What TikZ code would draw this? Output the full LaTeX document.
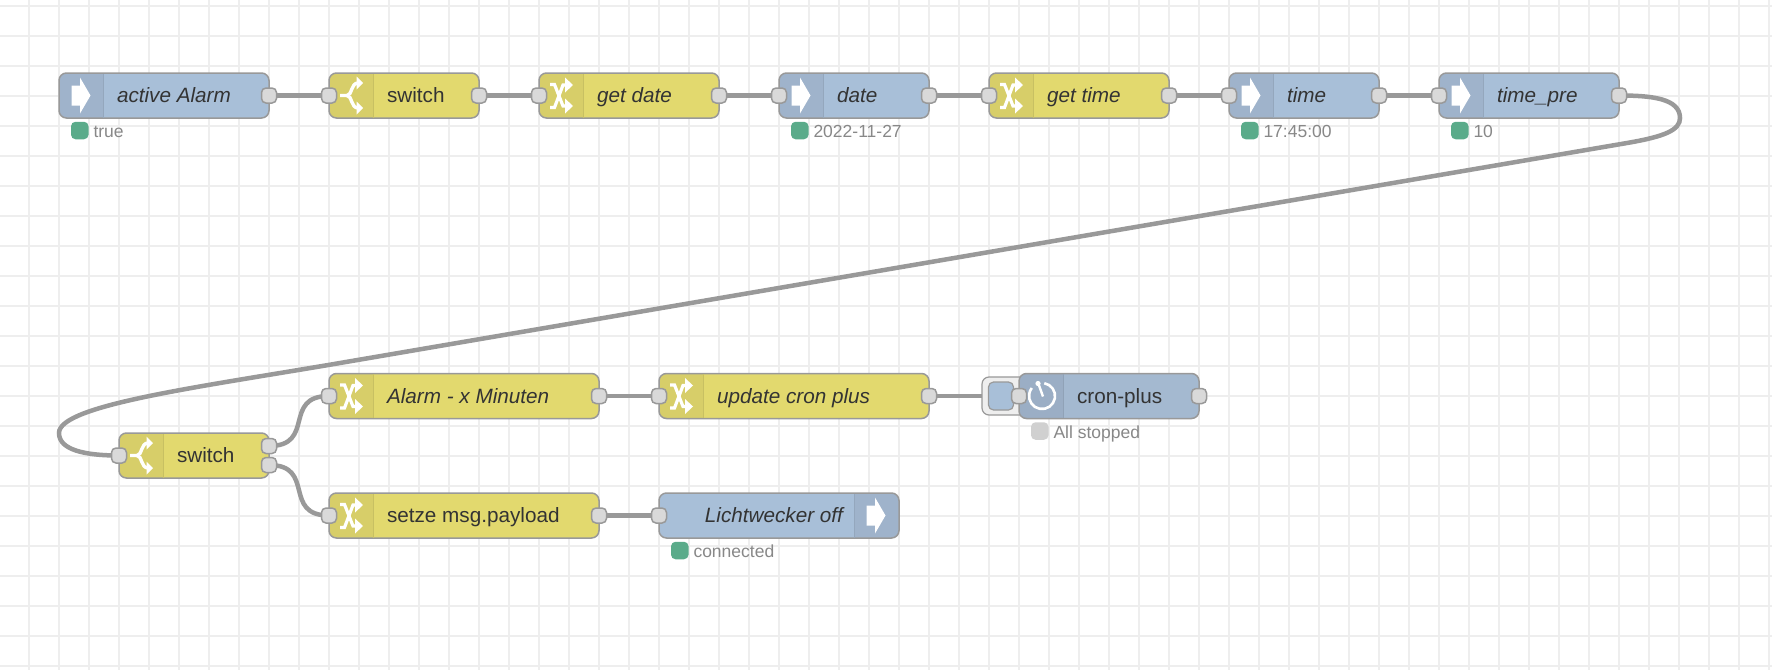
\documentclass[tikz,border=0pt]{standalone}
\usepackage{fontspec}
\setmainfont{Liberation Sans}
\usetikzlibrary{backgrounds}
\definecolor{gridc}{HTML}{EEEEEE}
\definecolor{wirec}{HTML}{999999}
\definecolor{edgec}{HTML}{999999}
\definecolor{portc}{HTML}{D9D9D9}
\definecolor{bluec}{HTML}{A8BFD8}
\definecolor{bluei}{HTML}{9FB3CB}
\definecolor{cronc}{HTML}{A4B9D0}
\definecolor{croni}{HTML}{9BAEC5}
\definecolor{yelc}{HTML}{E2D96E}
\definecolor{yeli}{HTML}{D7CE69}
\definecolor{okc}{HTML}{5AAB8A}
\definecolor{offc}{HTML}{D0D0D0}
\definecolor{txtc}{HTML}{333333}
\definecolor{stc}{HTML}{888888}
\tikzset{
  gridline/.style={gridc,line width=1.8pt},
  wire/.style={wirec,line width=4.5pt},
  nodebody/.style={rectangle,rounded corners=7.5pt,minimum height=45pt,inner sep=0pt,outer sep=0pt},
  nodeedge/.style={draw=edgec,line width=1.5pt,rounded corners=7.5pt},
  port/.style={rectangle,draw=edgec,fill=portc,line width=1.5pt,rounded corners=4.5pt,minimum size=15pt,inner sep=0pt,outer sep=0pt},
  lbl/.style={anchor=base west,inner sep=0pt,outer sep=0pt,text=txtc,font=\fontsize{20.7pt}{24pt}\selectfont},
  ilbl/.style={lbl,font=\fontsize{20.7pt}{24pt}\selectfont\itshape},
  stdot/.style={rectangle,rounded corners=4.5pt,minimum size=17.5pt,inner sep=0pt,outer sep=0pt},
  sttext/.style={anchor=base west,inner sep=0pt,outer sep=0pt,text=stc,font=\fontsize{17.5pt}{20pt}\selectfont},
}
% #1 name, #2 left, #3 centre y, #4 width, #5 fill, #6 panel fill, #7 panel left offset
\newcommand{\flowbody}[7]{%
  \node[nodebody,fill=#5,minimum width=#4pt] (#1) at ({#2+#4/2},#3) {};
  \begin{scope}
    \clip[rounded corners=7.5pt] (#2,#3-22.5) rectangle (#2+#4,#3+22.5);
    \fill[#6] (#2+#7,#3-23) rectangle (#2+#7+44.5,#3+23);
  \end{scope}
  \draw[nodeedge] (#2,#3-22.5) rectangle (#2+#4,#3+22.5);
}
\newcommand{\leftdivider}[3]{\draw[#3,line width=1pt] (#1+44.5,#2-22) -- (#1+44.5,#2+22);}
\newcommand{\iconarrow}[2]{\begin{scope}[shift={(#1,#2)}]
  \fill[white] (12.7,-10)--(21,-10)--(21,-18)--(31.5,0)--(21,18)--(21,10)--(12.7,10)--cycle;
\end{scope}}
\newcommand{\iconswitch}[2]{\begin{scope}[shift={(#1,#2)}]
  \draw[white,line width=3.4pt] (11,0)--(18,0) .. controls (23,0) and (22,-12.5) .. (29,-12.5);
  \draw[white,line width=3.4pt] (18,0) .. controls (23,0) and (22,12.5) .. (29,12.5);
  \fill[white] (27.5,-19)--(34,-12.5)--(27.5,-6)--cycle;
  \fill[white] (27.5,6)--(34,12.5)--(27.5,19)--cycle;
\end{scope}}
\newcommand{\iconchange}[2]{\begin{scope}[shift={(#1,#2)}]
  \draw[white,line width=3.2pt] (11,-11)--(15.5,-11)--(24,10.5)--(28,10.5);
  \draw[white,line width=3.2pt] (11,12)--(15.5,12)--(24,-10.5)--(28,-10.5);
  \fill[white] (26,-18)--(34,-10.5)--(26,-3)--cycle;
  \fill[white] (26,3)--(34,10.5)--(26,18)--cycle;
\end{scope}}
\newcommand{\iconclock}[2]{\begin{scope}[shift={(#1,#2)}]
  \draw[white,line width=2.6pt] (25.3,-12.8) arc[start angle=80,end angle=-218,radius=13pt];
  \draw[white,line width=2.4pt] (24,0.5) -- (19.5,-12);
  \fill[white] (19,-12.5) circle[radius=2.6pt];
\end{scope}}
% #1 name, #2 dot left, #3 node centre y, #4 colour, #5 text
\newcommand{\statusof}[5]{%
  \node[stdot,fill=#4] (#1-dot) at (#2+8.75,#3+35) {};
  \node[sttext] (#1-txt) at (#2+22.5,#3+42) {#5};
}
\begin{document}
\begin{tikzpicture}[x=1pt,y=-1pt]
\useasboundingbox (0,0) rectangle (1772,670);
\begin{scope}[on background layer]
\fill[white] (0,0) rectangle (1772,670);
\foreach \k in {0,...,58} {\draw[gridline] ({29+30*\k},0) -- ({29+30*\k},670);}
\foreach \k in {0,...,22} {\draw[gridline] (0,{5.7+30*\k}) -- (1772,{5.7+30*\k});}
\end{scope}

% ---- top row
\flowbody{alarm}{59}{95.5}{210}{bluec}{bluei}{0}
\leftdivider{59}{95.5}{bluei!93!black}\iconarrow{59}{95.5}
\node[ilbl] (alarm-l) at (117,102.5) {active Alarm};
\node[port] (alarm-o) at (269,95.5) {};
\statusof{alarm}{71}{95.5}{okc}{true}

\flowbody{sw}{329}{95.5}{150}{yelc}{yeli}{0}
\leftdivider{329}{95.5}{yeli!93!black}\iconswitch{329}{95.5}
\node[lbl] (sw-l) at (387,102.5) {switch};
\node[port] (sw-i) at (329,95.5) {};
\node[port] (sw-o) at (479,95.5) {};

\flowbody{gd}{539}{95.5}{180}{yelc}{yeli}{0}
\leftdivider{539}{95.5}{yeli!93!black}\iconchange{539}{95.5}
\node[ilbl] (gd-l) at (597,102.5) {get date};
\node[port] (gd-i) at (539,95.5) {};
\node[port] (gd-o) at (719,95.5) {};

\flowbody{dt}{779}{95.5}{150}{bluec}{bluei}{0}
\leftdivider{779}{95.5}{bluei!93!black}\iconarrow{779}{95.5}
\node[ilbl] (dt-l) at (837,102.5) {date};
\node[port] (dt-i) at (779,95.5) {};
\node[port] (dt-o) at (929,95.5) {};
\statusof{dt}{791}{95.5}{okc}{2022-11-27}

\flowbody{gt}{989}{95.5}{180}{yelc}{yeli}{0}
\leftdivider{989}{95.5}{yeli!93!black}\iconchange{989}{95.5}
\node[ilbl] (gt-l) at (1047,102.5) {get time};
\node[port] (gt-i) at (989,95.5) {};
\node[port] (gt-o) at (1169,95.5) {};

\flowbody{tm}{1229}{95.5}{150}{bluec}{bluei}{0}
\leftdivider{1229}{95.5}{bluei!93!black}\iconarrow{1229}{95.5}
\node[ilbl] (tm-l) at (1287,102.5) {time};
\node[port] (tm-i) at (1229,95.5) {};
\node[port] (tm-o) at (1379,95.5) {};
\statusof{tm}{1241}{95.5}{okc}{17:45:00}

\flowbody{tp}{1439}{95.5}{180}{bluec}{bluei}{0}
\leftdivider{1439}{95.5}{bluei!93!black}\iconarrow{1439}{95.5}
\node[ilbl] (tp-l) at (1497,102.5) {time\_pre};
\node[port] (tp-i) at (1439,95.5) {};
\node[port] (tp-o) at (1619,95.5) {};
\statusof{tp}{1451}{95.5}{okc}{10}

% ---- second switch
\flowbody{sb}{119}{455.5}{150}{yelc}{yeli}{0}
\leftdivider{119}{455.5}{yeli!93!black}\iconswitch{119}{455.5}
\node[lbl] (sb-l) at (177,462.5) {switch};
\node[port] (sb-i) at (119,455.5) {};
\node[port] (sb-a) at (269,446) {};
\node[port] (sb-b) at (269,465) {};

% ---- middle row
\flowbody{am}{329}{396}{270}{yelc}{yeli}{0}
\leftdivider{329}{396}{yeli!93!black}\iconchange{329}{396}
\node[ilbl] (am-l) at (387,403) {Alarm - x Minuten};
\node[port] (am-i) at (329,396) {};
\node[port] (am-o) at (599,396) {};

\flowbody{uc}{659}{396}{270}{yelc}{yeli}{0}
\leftdivider{659}{396}{yeli!93!black}\iconchange{659}{396}
\node[ilbl] (uc-l) at (717,403) {update cron plus};
\node[port] (uc-i) at (659,396) {};
\node[port] (uc-o) at (929,396) {};

\node[rectangle,draw=edgec,fill=gridc,line width=1.2pt,rounded corners=7pt,minimum width=50pt,minimum height=38pt,inner sep=0pt,outer sep=0pt] (btn) at (1007,396) {};
\node[rectangle,draw=edgec,fill=bluec,line width=1.2pt,rounded corners=5pt,minimum width=25pt,minimum height=28pt,inner sep=0pt,outer sep=0pt] (btnin) at (1001,396) {};
\flowbody{cp}{1019}{396}{180}{cronc}{croni}{0}
\leftdivider{1019}{396}{croni!93!black}\iconclock{1019}{396}
\node[lbl] (cp-l) at (1077,403) {cron-plus};
\node[port] (cp-i) at (1019,396) {};
\node[port] (cp-o) at (1199,396) {};
\statusof{cp}{1031}{396}{offc}{All stopped}

% ---- bottom row
\flowbody{sp}{329}{515.5}{270}{yelc}{yeli}{0}
\leftdivider{329}{515.5}{yeli!93!black}\iconchange{329}{515.5}
\node[lbl] (sp-l) at (387,522.5) {setze msg.payload};
\node[port] (sp-i) at (329,515.5) {};
\node[port] (sp-o) at (599,515.5) {};

\flowbody{lw}{659}{515.5}{240}{bluec}{bluei}{195}
\draw[bluei!93!black,line width=1pt] (854,493.5) -- (854,537.5);
\iconarrow{854}{515.5}
\node[ilbl,anchor=base east] (lw-l) at (843,522.5) {Lichtwecker off};
\node[port] (lw-i) at (659,515.5) {};
\statusof{lw}{671}{515.5}{okc}{connected}

% ---- wires, behind the nodes
\begin{scope}[on background layer]
\draw[wire] (alarm-o.center) -- (sw-i.center);
\draw[wire] (sw-o.center) -- (gd-i.center);
\draw[wire] (gd-o.center) -- (dt-i.center);
\draw[wire] (dt-o.center) -- (gt-i.center);
\draw[wire] (gt-o.center) -- (tm-i.center);
\draw[wire] (tm-o.center) -- (tp-i.center);
\draw[wire] (tp-o.center) .. controls (1650,95.5) and (1680,98) .. (1680,118)
  .. controls (1680,130) and (1665,136.5) .. (1627,143)
  -- (340,363)
  .. controls (200,387) and (59,405) .. (59,433)
  .. controls (59,450) and (85,455.5) .. (sb-i.center);
\draw[wire] (sb-a.center) .. controls (316,446) and (282,396) .. (am-i.center);
\draw[wire] (sb-b.center) .. controls (316,465) and (282,515.5) .. (sp-i.center);
\draw[wire] (am-o.center) -- (uc-i.center);
\draw[wire] (uc-o.center) -- (btn.west);
\draw[wire] (sp-o.center) -- (lw-i.center);
\end{scope}
\end{tikzpicture}
\end{document}
